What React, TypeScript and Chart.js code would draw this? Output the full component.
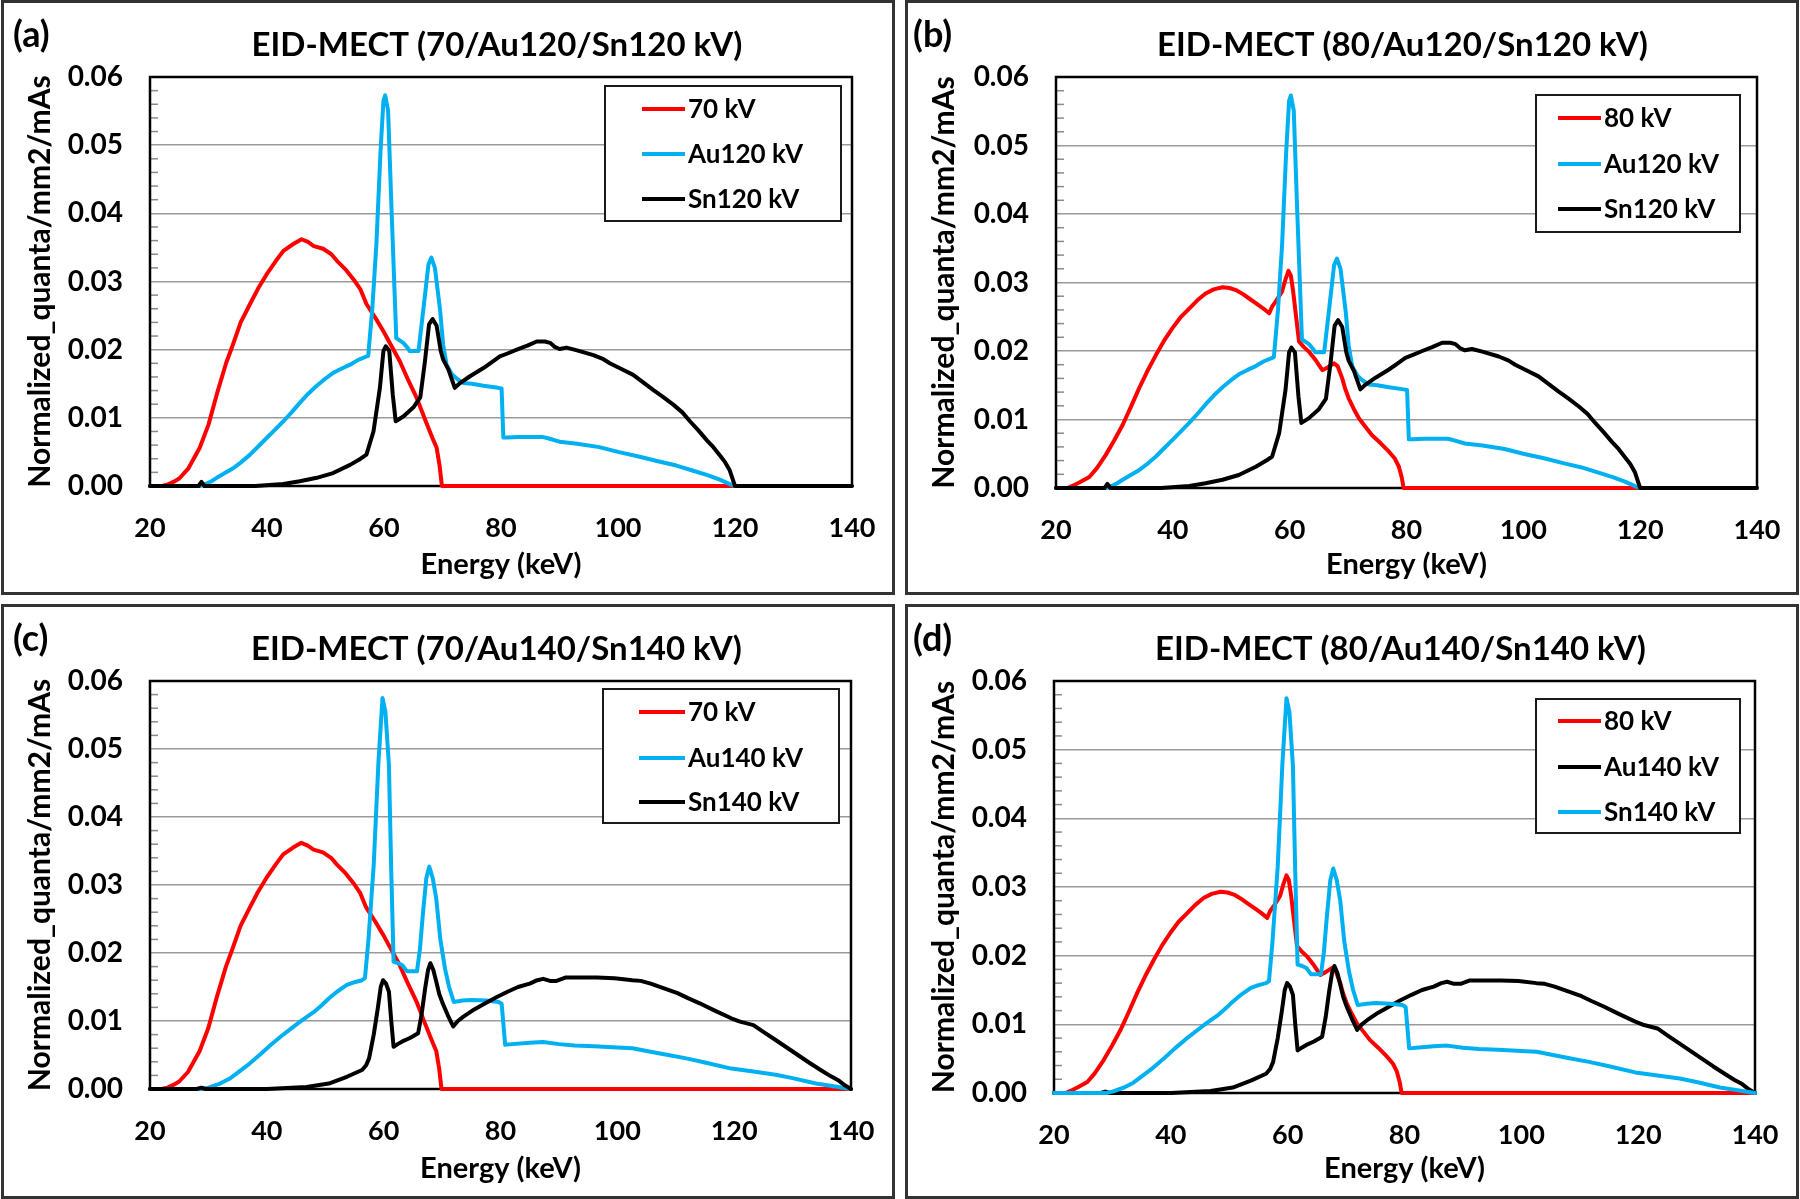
import React, { useEffect, useRef } from "react";
import { Chart, registerables } from "chart.js";
Chart.register(...registerables);

// ---------- data: [energy keV, normalized quanta] ----------
const S70: [number, number][] = [
  [20, 0], [22, 0], [23, 0.0002], [24, 0.0006], [25, 0.0011], [26.5, 0.0025], [28.5, 0.0056], [30, 0.009],
  [31.4, 0.0134], [33, 0.018], [34.2, 0.0208], [35.5, 0.024], [37.1, 0.0267], [38.5, 0.029], [39.9, 0.031],
  [41.5, 0.033], [42.8, 0.0345], [44.5, 0.0355], [45.9, 0.0362], [47, 0.0358], [48, 0.0352], [49.6, 0.0348],
  [51, 0.034], [52, 0.033], [53.5, 0.0317], [54.8, 0.0303], [56, 0.0288], [57, 0.0267], [58.5, 0.0247],
  [59.9, 0.0227], [61.3, 0.0205], [62.7, 0.0183], [64, 0.0158], [65.6, 0.0129], [67, 0.0098], [68.4, 0.0068],
  [69, 0.0056], [69.5, 0.003], [69.9, 0],
];

const S80: [number, number][] = [
  [20, 0], [22, 0], [22.8, 0.0003], [24, 0.0008], [25.7, 0.0016], [27, 0.0029], [28.5, 0.0048], [30, 0.007],
  [31.4, 0.0092], [32.8, 0.0118], [34.2, 0.0145], [35.6, 0.017], [37.1, 0.0194], [38.5, 0.0215], [39.9, 0.0233],
  [41.3, 0.0249], [42.8, 0.0262], [44.2, 0.0274], [45.6, 0.0284], [47, 0.029], [48.5, 0.0293], [49.7, 0.0292],
  [50.8, 0.0289], [52, 0.0283], [53, 0.0277], [54.5, 0.0268], [55.5, 0.0262], [56.5, 0.0255], [57, 0.0265],
  [57.6, 0.0272], [58.2, 0.028], [58.7, 0.0287], [59.3, 0.0305], [59.8, 0.0317], [60.2, 0.031], [60.6, 0.0287],
  [61.1, 0.025], [61.6, 0.0214], [62.4, 0.0206], [63.3, 0.0199], [64.5, 0.0186], [65.6, 0.0172], [66.5, 0.0176],
  [67.6, 0.0182], [68.2, 0.0178], [69, 0.016], [69.5, 0.0145], [70.1, 0.0131], [71, 0.0115], [71.9, 0.0101],
  [73, 0.0089], [74.1, 0.0077], [75.5, 0.0066], [77, 0.0053], [78, 0.0043], [78.7, 0.0031], [79.2, 0.0015],
  [79.5, 0],
];

const AU120: [number, number][] = [
  [20, 0], [28.5, 0], [29.5, 0.0003], [30.5, 0.0007], [31.4, 0.0012], [32.8, 0.0019], [34.2, 0.0026],
  [35.6, 0.0035], [37.1, 0.0046], [38.5, 0.0058], [39.9, 0.007], [41.3, 0.0082], [42.8, 0.0095], [44.2, 0.0108],
  [45.6, 0.0122], [47, 0.0135], [48.5, 0.0147], [49.9, 0.0157], [51.3, 0.0166], [52.7, 0.0172], [54.2, 0.0178],
  [55.6, 0.0185], [57, 0.019], [57.3, 0.0191], [58, 0.026], [58.7, 0.0355], [59.4, 0.049], [59.9, 0.0565],
  [60.2, 0.0573], [60.7, 0.0551], [61.3, 0.0403], [62.1, 0.0217], [62.8, 0.0213], [63.3, 0.021], [64, 0.0203],
  [64.4, 0.0198], [65.9, 0.0198], [66.7, 0.0257], [67.6, 0.0325], [68.1, 0.0335], [68.7, 0.032], [69.6, 0.0257],
  [70.1, 0.0208], [70.7, 0.0178], [71.6, 0.0164], [72.5, 0.0157], [73.6, 0.0151], [75, 0.015], [77, 0.0147],
  [79.5, 0.0144], [80.1, 0.0143], [80.4, 0.0071], [81.1, 0.0071], [83, 0.0072], [85.4, 0.0072], [87, 0.0072],
  [88, 0.007], [90, 0.0065], [93, 0.0062], [96.8, 0.0057], [100, 0.005], [103.7, 0.0043], [107, 0.0036],
  [110, 0.003], [113, 0.0022], [115.3, 0.0016], [117.5, 0.0009], [119.3, 0.0002], [120, 0],
];

const SN120: [number, number][] = [
  [20, 0], [28.3, 0], [28.8, 0.0006], [29.3, 0], [38, 0], [42.8, 0.0003], [45.6, 0.0007], [48.5, 0.0012],
  [51.3, 0.0019], [54.2, 0.0031], [56, 0.004], [57, 0.0046], [58.2, 0.008], [59.3, 0.0144], [59.9, 0.0198],
  [60.3, 0.0205], [60.9, 0.0198], [61.5, 0.0134], [62, 0.0095], [63.3, 0.0102], [65, 0.0115], [66.2, 0.013],
  [67, 0.0183], [67.7, 0.0237], [68.3, 0.0245], [69, 0.0235], [69.7, 0.0198], [70.1, 0.0186], [71, 0.0171],
  [72.1, 0.0144], [73, 0.0151], [74.7, 0.0161], [77, 0.0173], [78.5, 0.0182], [79.8, 0.019], [81, 0.0194],
  [82.7, 0.02], [84.5, 0.0206], [86.1, 0.0212], [87.5, 0.0212], [88.4, 0.021], [89.2, 0.0204], [90, 0.0201],
  [91.2, 0.0203], [93, 0.0199], [95.8, 0.0192], [97.5, 0.0186], [98.6, 0.018], [100.5, 0.0172], [102.6, 0.0163],
  [104.3, 0.0152], [106, 0.0141], [107.8, 0.013], [109.5, 0.0119], [111, 0.0108], [112.3, 0.0095],
  [113.7, 0.0082], [115.2, 0.0067], [116.3, 0.0057], [117.4, 0.0045], [118.3, 0.0035], [119.1, 0.0023],
  [119.6, 0.001], [120, 0],
];

const AU140: [number, number][] = [
  [20, 0], [29, 0], [30, 0.0002], [32, 0.0008], [33.6, 0.0015], [35.3, 0.0026], [37, 0.0037], [38.9, 0.0051],
  [40.7, 0.0065], [42.5, 0.0078], [44.3, 0.009], [46, 0.0101], [48, 0.0113], [49.5, 0.0124], [50.6, 0.0133],
  [52, 0.0143], [53.7, 0.0153], [55, 0.0157], [56.3, 0.016], [56.8, 0.0163], [57.4, 0.022], [58.3, 0.033],
  [59.1, 0.048], [59.8, 0.0575], [60.3, 0.0555], [60.9, 0.0476], [61.3, 0.032], [61.7, 0.0187], [62.5, 0.0185],
  [63.2, 0.0182], [64, 0.0173], [65.7, 0.0173], [66.2, 0.0205], [66.7, 0.0256], [67.3, 0.031], [67.8, 0.0327],
  [68.4, 0.031], [69, 0.028], [69.7, 0.022], [70.5, 0.0177], [71.2, 0.015], [72, 0.0128], [73.5, 0.013],
  [75.1, 0.0131], [77.5, 0.013], [79.7, 0.0128], [80.2, 0.0125], [80.8, 0.0065], [82, 0.0066], [85, 0.0068],
  [87.3, 0.0069], [90, 0.0066], [92.7, 0.0064], [96, 0.0063], [100, 0.0061], [102.6, 0.006], [105, 0.0056],
  [108, 0.0051], [111.8, 0.0045], [115, 0.0039], [119.5, 0.003], [123, 0.0026], [127.1, 0.0021], [130, 0.0016],
  [134, 0.0008], [137, 0.0004], [140, 0],
];

const SN140: [number, number][] = [
  [20, 0], [28, 0], [28.8, 0.0002], [29.5, 0], [40, 0], [46.8, 0.0003], [50.6, 0.0008], [53.7, 0.0018],
  [56.3, 0.0028], [57, 0.0035], [57.5, 0.0045], [58.3, 0.008], [59, 0.0119], [59.5, 0.015], [59.9, 0.016],
  [60.4, 0.0155], [60.9, 0.0143], [61.3, 0.01], [61.7, 0.0062], [62.4, 0.0066], [63.2, 0.007], [64.5, 0.0075],
  [65.9, 0.0082], [66.5, 0.011], [67.1, 0.0148], [67.6, 0.0175], [68, 0.0185], [68.5, 0.0175], [69, 0.0158],
  [69.5, 0.014], [70.1, 0.0126], [71, 0.0108], [71.9, 0.0092], [72.7, 0.01], [73.6, 0.0106], [75.5, 0.0117],
  [77.4, 0.0126], [79.3, 0.0135], [81.2, 0.0143], [83, 0.015], [85, 0.0155], [86.3, 0.016], [87.3, 0.0162],
  [88.5, 0.0159], [89.6, 0.0159], [91.2, 0.0164], [94, 0.0164], [96.5, 0.0164], [99.5, 0.0163], [102.6, 0.016],
  [104, 0.0159], [105.7, 0.0155], [108, 0.0148], [110.3, 0.0141], [112, 0.0134], [114.1, 0.0126],
  [116.5, 0.0116], [119.5, 0.0104], [121, 0.0099], [123.3, 0.0094], [125, 0.0084], [127.1, 0.0072],
  [129, 0.0061], [130.9, 0.005], [132.8, 0.0039], [134.8, 0.0028], [136.5, 0.0019], [137.8, 0.0013],
  [139, 0.0005], [140, 0],
];

const X_TICKS = [20, 40, 60, 80, 100, 120, 140];
const Y_TICKS = [0, 0.01, 0.02, 0.03, 0.04, 0.05, 0.06];
const Y_MINOR_STEP = 0.002;

const X_TITLE = "Energy (keV)";
const Y_TITLE = "Normalized_quanta/mm2/mAs";

const RED = "#FF0000";
const BLUE = "#00B0F0";
const BLACK = "#000000";

// ---------- layout ----------
const FONT = "Lato, 'Open Sans', sans-serif";
const CW = 888;
const CH = 589;

type Series = { label: string; color: string; pts: [number, number][]; extendTo?: number };
type Legend = { x: number; y: number; w: number; h: number; l0: number; l1: number; tx: number; rows: number[] };
type Panel = {
  tag: string;
  tagX: number;
  title: string;
  left: number;
  top: number;
  area: { l: number; t: number; r: number; b: number };
  legend: Legend;
  series: Series[];
};

const PANELS: Panel[] = [
  {
    tag: "(a)", tagX: 9, title: "EID-MECT (70/Au120/Sn120 kV)", left: 1, top: 0,
    area: { l: 146, t: 74, r: 848, b: 483 },
    legend: { x: 601, y: 83, w: 236, h: 135, l0: 638, l1: 681, tx: 684, rows: [106, 151, 196] },
    series: [
      { label: "70 kV", color: RED, pts: S70, extendTo: 120 },
      { label: "Au120 kV", color: BLUE, pts: AU120 },
      { label: "Sn120 kV", color: BLACK, pts: SN120, extendTo: 140 },
    ],
  },
  {
    tag: "(b)", tagX: 5, title: "EID-MECT (80/Au120/Sn120 kV)", left: 905, top: 0,
    area: { l: 148, t: 74, r: 849, b: 485 },
    legend: { x: 628, y: 92, w: 204, h: 137, l0: 650, l1: 693, tx: 696, rows: [115, 161, 206] },
    series: [
      { label: "80 kV", color: RED, pts: S80, extendTo: 120 },
      { label: "Au120 kV", color: BLUE, pts: AU120 },
      { label: "Sn120 kV", color: BLACK, pts: SN120, extendTo: 140 },
    ],
  },
  {
    tag: "(c)", tagX: 9, title: "EID-MECT (70/Au140/Sn140 kV)", left: 1, top: 604,
    area: { l: 146, t: 74, r: 847, b: 482 },
    legend: { x: 599, y: 82, w: 236, h: 134, l0: 635, l1: 681, tx: 684, rows: [105, 151, 195] },
    series: [
      { label: "70 kV", color: RED, pts: S70, extendTo: 140 },
      { label: "Au140 kV", color: BLUE, pts: AU140 },
      { label: "Sn140 kV", color: BLACK, pts: SN140 },
    ],
  },
  {
    tag: "(d)", tagX: 5, title: "EID-MECT (80/Au140/Sn140 kV)", left: 905, top: 604,
    area: { l: 146, t: 74, r: 847, b: 486 },
    legend: { x: 628, y: 92, w: 204, h: 134, l0: 650, l1: 693, tx: 696, rows: [114, 160, 205] },
    series: [
      { label: "80 kV", color: RED, pts: S80, extendTo: 140 },
      { label: "Au140 kV", color: BLACK, pts: SN140 },
      { label: "Sn140 kV", color: BLUE, pts: AU140 },
    ],
  },
];

function makeDecor(p: Panel) {
  return {
    id: "panelDecor",
    beforeDatasetsDraw(chart: any) {
      const { ctx, chartArea: a } = chart;
      const ys = chart.scales.y;
      ctx.save();
      ctx.strokeStyle = "#8a8a8a";
      ctx.lineWidth = 1.5;
      const lo = Y_TICKS[0];
      const hi = Y_TICKS[Y_TICKS.length - 1];
      const n = Math.round((hi - lo) / Y_MINOR_STEP);
      for (let i = 1; i < n; i++) {
        if (i % 5 === 0) continue;
        const py = ys.getPixelForValue(lo + i * Y_MINOR_STEP);
        ctx.beginPath();
        ctx.moveTo(a.left, py);
        ctx.lineTo(a.left + 8, py);
        ctx.stroke();
      }
      ctx.strokeStyle = "#000";
      ctx.lineWidth = 2.5;
      ctx.strokeRect(a.left, a.top, a.right - a.left, a.bottom - a.top);
      ctx.restore();
    },
    afterDraw(chart: any) {
      const { ctx, chartArea: a } = chart;
      ctx.save();
      ctx.fillStyle = "#000";
      ctx.textBaseline = "alphabetic";
      ctx.textAlign = "center";
      ctx.font = `bold 33px ${FONT}`;
      ctx.fillText(p.title, (a.left + a.right) / 2 - 4, 53);
      ctx.textAlign = "left";
      ctx.font = `bold 36px ${FONT}`;
      ctx.fillText(p.tag, p.tagX, 44);

      const L = p.legend;
      ctx.fillStyle = "#fff";
      ctx.fillRect(L.x, L.y, L.w, L.h);
      ctx.strokeStyle = "#1a1a1a";
      ctx.lineWidth = 2;
      ctx.strokeRect(L.x, L.y, L.w, L.h);
      chart.data.datasets.forEach((ds: any, i: number) => {
        const y = L.rows[i];
        ctx.strokeStyle = ds.borderColor;
        ctx.lineWidth = 4;
        ctx.beginPath();
        ctx.moveTo(L.l0, y);
        ctx.lineTo(L.l1, y);
        ctx.stroke();
        ctx.fillStyle = "#000";
        ctx.font = `bold 26px ${FONT}`;
        ctx.textBaseline = "middle";
        ctx.fillText(ds.label, L.tx, y + 1);
      });
      ctx.restore();
    },
  };
}

function PanelChart({ p }: { p: Panel }) {
  const ref = useRef<HTMLCanvasElement | null>(null);
  useEffect(() => {
    const canvas = ref.current;
    if (!canvas) return;
    const n = p.series.length;
    const datasets = p.series.map((s, i) => {
      const pts = s.pts.map(([x, y]) => ({ x, y }));
      if (s.extendTo !== undefined) pts.push({ x: s.extendTo, y: 0 });
      return {
        label: s.label,
        data: pts,
        borderColor: s.color,
        backgroundColor: s.color,
        borderWidth: 4,
        pointRadius: 0,
        tension: 0,
        fill: false,
        clip: false as any,
        order: n - i,
        borderJoinStyle: "round" as const,
        borderCapStyle: "round" as const,
      };
    });
    const A = p.area;
    const chart = new Chart(canvas, {
      type: "line",
      data: { datasets },
      options: {
        animation: false,
        responsive: false,
        devicePixelRatio: 1,
        events: [],
        layout: { padding: { left: 0, top: A.t, right: CW - A.r, bottom: 0 } },
        plugins: { legend: { display: false }, title: { display: false }, tooltip: { enabled: false } },
        scales: {
          x: {
            type: "linear",
            min: X_TICKS[0],
            max: X_TICKS[X_TICKS.length - 1],
            afterBuildTicks: (s: any) => {
              s.ticks = X_TICKS.map((v) => ({ value: v }));
            },
            afterFit: (s: any) => {
              s.height = CH - A.b;
              s.paddingLeft = 0;
              s.paddingRight = 0;
            },
            grid: { display: false, drawTicks: false },
            border: { display: false },
            ticks: {
              color: "#000",
              font: { family: FONT, size: 27, weight: "bold" },
              padding: 26,
              maxRotation: 0,
              autoSkip: false,
            },
            title: {
              display: true,
              text: X_TITLE,
              color: "#000",
              font: { family: FONT, size: 29, weight: "bold" },
              padding: { top: 0, bottom: 10 },
            },
          },
          y: {
            type: "linear",
            min: Y_TICKS[0],
            max: Y_TICKS[Y_TICKS.length - 1],
            afterBuildTicks: (s: any) => {
              s.ticks = Y_TICKS.map((v) => ({ value: v }));
            },
            afterFit: (s: any) => {
              s.width = A.l;
              s.paddingTop = 0;
              s.paddingBottom = 0;
            },
            grid: { display: true, color: "#9a9a9a", lineWidth: 1.5, drawTicks: false },
            border: { display: false },
            ticks: {
              color: "#000",
              font: { family: FONT, size: 28, weight: "bold" },
              padding: 27,
              callback: (v: any) => Number(v).toFixed(2),
            },
            title: {
              display: true,
              text: Y_TITLE,
              color: "#000",
              font: { family: FONT, size: 30, weight: "bold" },
              padding: { top: 18, bottom: 0 },
            },
          },
        },
      },
      plugins: [makeDecor(p)],
    });
    return () => chart.destroy();
  }, [p]);
  return <canvas ref={ref} width={CW} height={CH} style={{ display: "block", width: CW, height: CH }} />;
}

export default function App() {
  return (
    <div style={{ position: "absolute", left: 0, top: 0, width: 1800, height: 1199, background: "#fff", overflow: "hidden" }}>
      {PANELS.map((p) => (
        <div
          key={p.tag}
          style={{
            position: "absolute",
            left: p.left,
            top: p.top,
            width: CW + 6,
            height: CH + 6,
            boxSizing: "border-box",
            border: "3px solid #333",
            background: "#fff",
          }}
        >
          <PanelChart p={p} />
        </div>
      ))}
    </div>
  );
}
